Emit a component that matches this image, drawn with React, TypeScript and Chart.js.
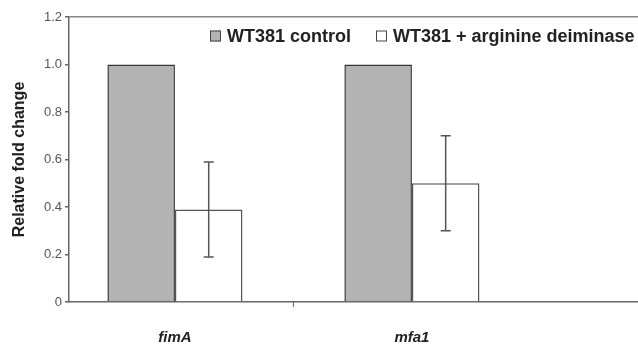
import React, { useEffect, useRef } from "react";
import { Chart, registerables } from "chart.js";

Chart.register(...registerables);

const categories = ["fimA", "mfa1"];
const seriesNames = ["WT381 control", "WT381 + arginine deiminase"];
const controlValues = [1.0, 1.0];
const treatedValues = [0.39, 0.5];
const treatedErrors = [0.2, 0.2];
const yTicks = [0, 0.2, 0.4, 0.6, 0.8, 1.0, 1.2];

const FONT = "'Liberation Sans', Arial, sans-serif";

const errorBarPlugin = {
  id: "errorBars",
  afterDatasetsDraw(chart: any) {
    const ctx = chart.ctx;
    const meta = chart.getDatasetMeta(1);
    const y = chart.scales.y;
    const x = chart.scales.x;
    ctx.save();
    ctx.strokeStyle = "#555";
    ctx.lineWidth = 1.5;
    meta.data.forEach((el: any, i: number) => {
      const v = treatedValues[i];
      const e = treatedErrors[i];
      const px = el.x;
      const yt = y.getPixelForValue(v + e);
      const yb = y.getPixelForValue(v - e);
      ctx.beginPath();
      ctx.moveTo(px, yt);
      ctx.lineTo(px, yb);
      ctx.moveTo(px - 5, yt);
      ctx.lineTo(px + 5, yt);
      ctx.moveTo(px - 5, yb);
      ctx.lineTo(px + 5, yb);
      ctx.stroke();
    });
    // category divider tick below the x axis
    const mx = x.getPixelForValue(0.5);
    const by = chart.chartArea.bottom;
    ctx.strokeStyle = "#666";
    ctx.lineWidth = 1;
    ctx.beginPath();
    ctx.moveTo(mx, by);
    ctx.lineTo(mx, by + 5);
    ctx.stroke();
    ctx.restore();
  },
};

const legendPlugin = {
  id: "customLegend",
  afterDraw(chart: any) {
    const ctx = chart.ctx;
    ctx.save();
    ctx.font = `bold 18px ${FONT}`;
    ctx.textBaseline = "middle";
    const items = [
      { x: 210, fill: "#b3b3b3" },
      { x: 376, fill: "#ffffff" },
    ];
    const cy = 36;
    items.forEach((it, i) => {
      ctx.fillStyle = it.fill;
      ctx.fillRect(it.x, cy - 5.5, 11, 11);
      ctx.strokeStyle = "#444";
      ctx.lineWidth = 1;
      ctx.strokeRect(it.x + 0.5, cy - 5.5 + 0.5, 10, 10);
      ctx.fillStyle = "#222";
      ctx.fillText(seriesNames[i], it.x + 17, cy + 1);
    });
    ctx.restore();
  },
};

export default function App() {
  const ref = useRef<HTMLCanvasElement>(null);
  useEffect(() => {
    document.body.style.margin = "0";
    const chart = new Chart(ref.current as HTMLCanvasElement, {
      type: "bar",
      data: {
        datasets: [
          {
            label: seriesNames[0],
            data: controlValues.map((v, i) => ({ x: i, y: v })),
            backgroundColor: "#b3b3b3",
            borderColor: "#333",
            borderWidth: 1.5,
            barPercentage: 1,
            categoryPercentage: 0.57,
          },
          {
            label: seriesNames[1],
            data: treatedValues.map((v, i) => ({ x: i, y: v })),
            backgroundColor: "#ffffff",
            borderColor: "#555",
            borderWidth: 1.5,
            barPercentage: 1,
            categoryPercentage: 0.57,
          },
        ],
      },
      options: {
        responsive: false,
        animation: false,
        layout: { padding: { top: 17, left: 0, right: 0, bottom: 0 } },
        plugins: { legend: { display: false }, tooltip: { enabled: false } },
        scales: {
          x: {
            type: "linear",
            offset: false,
            min: -0.447,
            max: 1.954,
            afterBuildTicks: (scale: any) => {
              scale.ticks = [{ value: 0 }, { value: 1 }];
            },
            afterFit: (scale: any) => {
              scale.height = 43;
            },
            ticks: {
              autoSkip: false,
              maxRotation: 0,
              padding: 19,
              color: "#222",
              font: { family: FONT, size: 15, weight: "bold", style: "italic" },
              callback: (v: any) =>
                v === 0 ? categories[0] : v === 1 ? categories[1] : "",
            },
            grid: {
              display: false,
            },
            border: { display: true, color: "#666", width: 1.5 },
          },
          y: {
            min: 0,
            max: 1.2,
            afterBuildTicks: (scale: any) => {
              scale.ticks = yTicks.map((v) => ({ value: v }));
            },
            afterFit: (scale: any) => {
              scale.width = 69;
            },
            ticks: {
              padding: 3,
              color: "#555",
              font: { family: FONT, size: 13 },
              callback: (v: any) => (v === 0 ? "0" : Number(v).toFixed(1)),
            },
            grid: {
              drawTicks: true,
              tickLength: 4,
              tickColor: "#666",
              color: (c: any) =>
                c.tick && Math.abs(c.tick.value - 1.2) < 1e-9 ? "#888" : "transparent",
              lineWidth: 1.5,
            },
            border: { display: true, color: "#666", width: 1.5 },
            title: {
              display: true,
              text: "Relative fold change",
              color: "#222",
              font: { family: FONT, size: 16, weight: "bold" },
              padding: { top: 10, bottom: 0 },
            },
          },
        },
      },
      plugins: [errorBarPlugin, legendPlugin],
    } as any);
    return () => chart.destroy();
  }, []);
  return <canvas ref={ref} width={638} height={345} />;
}
